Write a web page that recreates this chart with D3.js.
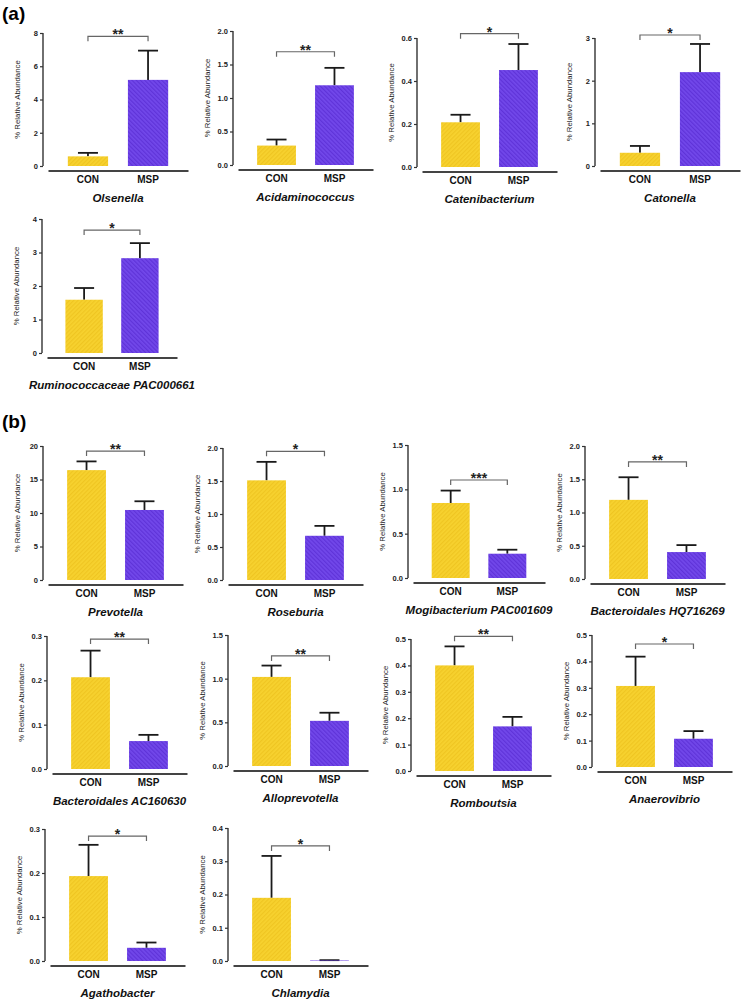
<!DOCTYPE html>
<html>
<head>
<meta charset="utf-8">
<script src="https://cdn.jsdelivr.net/npm/d3@7"></script>
<style>
  body { margin: 0; background: #fff; }
  svg { display: block; font-family: "Liberation Sans", Arial, sans-serif; }
</style>
</head>
<body>
<div id="chart"></div>
<script>
// Data (mean and upper SEM per group)
const taxa = ['Olsenella', 'Acidaminococcus', 'Catenibacterium', 'Catonella', 'Ruminococcaceae PAC000661',
  'Prevotella', 'Roseburia', 'Mogibacterium PAC001609', 'Bacteroidales HQ716269',
  'Bacteroidales AC160630', 'Alloprevotella', 'Romboutsia', 'Anaerovibrio',
  'Agathobacter', 'Chlamydia'];
const groups = ['CON', 'MSP'];
const conMean = [0.58, 0.29, 0.208, 0.31, 1.59, 16.4, 1.51, 0.846, 1.19, 0.207, 1.02, 0.40, 0.307, 0.193, 0.19];
const conSem  = [0.21, 0.09, 0.035, 0.16, 0.35, 1.3, 0.28, 0.14, 0.34, 0.06, 0.13, 0.072, 0.111, 0.071, 0.126];
const mspMean = [5.18, 1.19, 0.451, 2.2, 2.83, 10.45, 0.67, 0.274, 0.405, 0.063, 0.517, 0.169, 0.107, 0.030, 0.0015];
const mspSem  = [1.76, 0.26, 0.121, 0.66, 0.45, 1.3, 0.15, 0.045, 0.105, 0.014, 0.093, 0.036, 0.029, 0.012, 0.001];
const yMax     = [8, 2, 0.6, 3, 4, 20, 2, 1.5, 2, 0.3, 1.5, 0.5, 0.5, 0.3, 0.4];
const tickStep = [2, 0.5, 0.2, 1, 1, 5, 0.5, 0.5, 0.5, 0.1, 0.5, 0.1, 0.1, 0.1, 0.1];
const decimals = [0, 1, 1, 0, 0, 0, 1, 1, 1, 1, 1, 1, 1, 1, 1];
const stars    = ['**', '**', '*', '*', '*', '**', '*', '***', '**', '**', '**', '**', '*', '*', '*'];
const bracketAt = [7.8, 1.69, 0.62, 3.07, 3.67, 19.25, 1.95, 1.105, 1.76, 0.293, 1.26, 0.51, 0.466, 0.284, 0.346];

// Layout of the small multiples (y-axis x position, top and bottom of y range, plot width)
const panelX      = [43, 233, 417, 595, 42, 43, 223, 408, 585, 47, 228, 411, 592, 45, 228];
const panelTop    = [33, 31, 38, 38, 219, 446, 448, 445, 446, 636, 635, 639, 635, 829, 828];
const panelBottom = [166, 165, 167, 166, 353, 580, 580, 578, 579, 769, 766, 771, 767, 961, 961];
const panelWidth  = [140, 135, 135, 140, 130, 135, 135, 132, 135, 135, 135, 135, 135, 135, 135];

const width = 744, height = 999;
const svg = d3.select('#chart').append('svg')
  .attr('width', width)
  .attr('height', height);

// Textured fills
const defs = svg.append('defs');
function addPattern(id, base, line, angle) {
  const p = defs.append('pattern')
    .attr('id', id)
    .attr('patternUnits', 'userSpaceOnUse')
    .attr('width', 3).attr('height', 3)
    .attr('patternTransform', `rotate(${angle})`);
  p.append('rect').attr('width', 3).attr('height', 3).attr('fill', base);
  p.append('rect').attr('width', 1.2).attr('height', 3).attr('fill', line);
}
addPattern('fillCON', '#f7d22f', '#efc522', 45);
addPattern('fillMSP', '#7248ea', '#5f33d8', -45);

const colors = { CON: 'url(#fillCON)', MSP: 'url(#fillMSP)' };

// Panel letters
svg.append('text').attr('x', 2).attr('y', 20)
  .style('font-size', '19px').style('font-weight', 'bold').text('(a)');
svg.append('text').attr('x', 2).attr('y', 428)
  .style('font-size', '19px').style('font-weight', 'bold').text('(b)');

taxa.forEach((name, i) => {
  const g = svg.append('g');
  const x0 = panelX[i];

  const y = d3.scaleLinear()
    .domain([0, yMax[i]])
    .range([panelBottom[i], panelTop[i]]);

  const x = d3.scaleBand()
    .domain(groups)
    .range([x0 + 5, x0 + 5 + panelWidth[i]])
    .paddingInner(0.33)
    .paddingOuter(0.33);

  const ticks = d3.range(0, yMax[i] + tickStep[i] / 2, tickStep[i]);

  // y axis
  const yAxis = g.append('g')
    .attr('transform', `translate(${x0},0)`)
    .call(d3.axisLeft(y)
      .tickValues(ticks)
      .tickSize(3)
      .tickPadding(2)
      .tickFormat(d3.format(`.${decimals[i]}f`)));
  yAxis.select('.domain')
    .attr('d', `M0,${y(yMax[i])}V${y(0)}`)
    .attr('stroke', '#333').attr('stroke-width', 1.4);
  yAxis.selectAll('.tick line').attr('stroke', '#333').attr('stroke-width', 1.2);
  yAxis.selectAll('.tick text')
    .attr('fill', '#222')
    .style('font-size', '7.5px')
    .style('font-weight', 'bold')
    .style('font-family', '"Liberation Sans", Arial, sans-serif');

  // y label
  g.append('text')
    .attr('transform', `translate(${x0 - 23},${(panelTop[i] + panelBottom[i]) / 2}) rotate(-90)`)
    .attr('text-anchor', 'middle')
    .style('font-size', '7.8px')
    .attr('fill', '#222')
    .text('% Relative Abundance');

  // x axis (offset below zero)
  const xAxisY = panelBottom[i] + 4.5;
  const xAxis = g.append('g')
    .attr('transform', `translate(0,${xAxisY})`)
    .call(d3.axisBottom(x).tickSize(0).tickPadding(5));
  xAxis.select('.domain').attr('stroke', '#444').attr('stroke-width', 1.8);
  xAxis.selectAll('.tick text')
    .attr('fill', '#111')
    .style('font-size', '10px')
    .style('font-weight', 'bold')
    .style('font-family', '"Liberation Sans", Arial, sans-serif');

  const rows = [
    { grp: 'CON', mean: conMean[i], sem: conSem[i] },
    { grp: 'MSP', mean: mspMean[i], sem: mspSem[i] }
  ];

  // error bars (upper only)
  const err = g.append('g').attr('stroke', '#1a1a1a').attr('stroke-width', 1.8);
  rows.forEach(r => {
    const cx = x(r.grp) + x.bandwidth() / 2;
    err.append('line')
      .attr('x1', cx).attr('x2', cx)
      .attr('y1', y(r.mean)).attr('y2', y(r.mean + r.sem));
    err.append('line')
      .attr('x1', cx - 10).attr('x2', cx + 10)
      .attr('y1', y(r.mean + r.sem)).attr('y2', y(r.mean + r.sem));
  });

  // bars
  g.selectAll('rect.bar')
    .data(rows)
    .enter().append('rect')
    .attr('class', 'bar')
    .attr('x', d => x(d.grp))
    .attr('width', x.bandwidth())
    .attr('y', d => y(d.mean))
    .attr('height', d => y(0) - y(d.mean))
    .attr('fill', d => colors[d.grp]);

  // significance bracket
  const by = y(bracketAt[i]);
  const bx1 = x('CON') + x.bandwidth() / 2;
  const bx2 = x('MSP') + x.bandwidth() / 2;
  g.append('path')
    .attr('d', `M${bx1},${by + 5}V${by}H${bx2}V${by + 5}`)
    .attr('fill', 'none')
    .attr('stroke', '#666')
    .attr('stroke-width', 1.2);
  g.append('text')
    .attr('x', (bx1 + bx2) / 2)
    .attr('y', by + 3)
    .attr('text-anchor', 'middle')
    .style('font-size', '14px')
    .style('font-weight', 'bold')
    .attr('fill', '#222')
    .text(stars[i]);

  // taxon title
  g.append('text')
    .attr('x', (x('CON') + x('MSP') + x.bandwidth()) / 2)
    .attr('y', xAxisY + 31)
    .attr('text-anchor', 'middle')
    .style('font-size', '11.5px')
    .style('font-weight', 'bold')
    .style('font-style', 'italic')
    .attr('fill', '#111')
    .text(name);
});
</script>
</body>
</html>
